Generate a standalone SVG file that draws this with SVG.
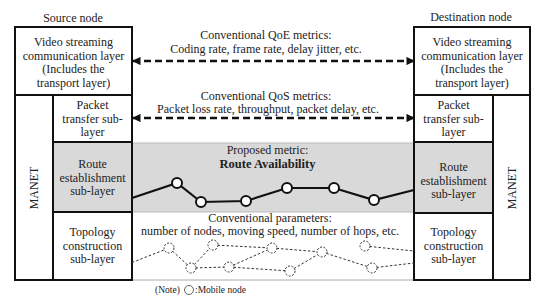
<svg xmlns="http://www.w3.org/2000/svg" width="550" height="305" viewBox="0 0 550 305">
<defs>
<style>
text{font-family:"Liberation Serif","DejaVu Serif",serif;font-size:12px;fill:#222;text-anchor:middle}
.box{fill:#fff;stroke:#111;stroke-width:2}
.gbox{fill:#d9d9d9;stroke:#111;stroke-width:2}
.arrow{stroke:#111;stroke-width:2.6;stroke-dasharray:7 4;fill:none}
.route{stroke:#111;stroke-width:2.2;fill:none}
.rnode{fill:#fff;stroke:#111;stroke-width:2}
.topo{stroke:#333;stroke-width:1;stroke-dasharray:2.5 2;fill:none}
.tnode{fill:#fff;stroke:#333;stroke-width:1;stroke-dasharray:2 1.5}
.bold{font-weight:bold;font-size:12.5px}
.small{font-size:9.5px}
</style>
<marker id="ah" viewBox="0 0 10 10" refX="9" refY="5" markerWidth="3.4" markerHeight="3.2" orient="auto-start-reverse" markerUnits="strokeWidth">
<path d="M0,0 L10,5 L0,10 z" fill="#111"/>
</marker>
</defs>
<rect width="550" height="305" fill="#fff"/>

<!-- middle band -->
<g id="middle-band">
<rect x="132" y="143" width="282" height="69" fill="#d9d9d9" stroke="#bbb" stroke-width="1"/>
<line x1="132" y1="280" x2="414" y2="280" stroke="#aaa" stroke-width="1"/>
</g>

<!-- Source node -->
<g id="source-node">
<text x="73" y="22">Source node</text>
<g id="src-video">
<rect class="box" x="15" y="27" width="117" height="68"/>
<text x="73.5" y="46">Video streaming</text>
<text x="73.5" y="59.5">communication layer</text>
<text x="73.5" y="73">(Includes the</text>
<text x="73.5" y="86.5">transport layer)</text>
</g>
<g id="src-manet">
<rect class="box" x="15" y="95" width="117" height="185"/>
<text transform="translate(37.5,188) rotate(-90)">MANET</text>
</g>
<g id="src-packet">
<rect class="box" x="53" y="95" width="79" height="47"/>
<text x="92.5" y="109">Packet</text>
<text x="92.5" y="122.5">transfer sub-</text>
<text x="92.5" y="136">layer</text>
</g>
<g id="src-route">
<rect class="gbox" x="53" y="142" width="79" height="70"/>
<text x="92.5" y="168">Route</text>
<text x="92.5" y="181.5">establishment</text>
<text x="92.5" y="195">sub-layer</text>
</g>
<g id="src-topology">
<rect class="box" x="53" y="212" width="79" height="68"/>
<text x="92.5" y="236">Topology</text>
<text x="92.5" y="249.5">construction</text>
<text x="92.5" y="263">sub-layer</text>
</g>
</g>

<!-- Destination node -->
<g id="destination-node">
<text x="471" y="21">Destination node</text>
<g id="dst-video">
<rect class="box" x="414" y="27" width="116" height="68"/>
<text x="472" y="46">Video streaming</text>
<text x="472" y="59.5">communication layer</text>
<text x="472" y="73">(Includes the</text>
<text x="472" y="86.5">transport layer)</text>
</g>
<g id="dst-manet">
<rect class="box" x="414" y="95" width="116" height="185"/>
<text transform="translate(516,188) rotate(-90)">MANET</text>
</g>
<g id="dst-packet">
<rect class="box" x="414" y="95" width="79" height="47"/>
<text x="453.5" y="109">Packet</text>
<text x="453.5" y="122.5">transfer sub-</text>
<text x="453.5" y="136">layer</text>
</g>
<g id="dst-route">
<rect class="gbox" x="414" y="142" width="79" height="71"/>
<text x="453.5" y="171">Route</text>
<text x="453.5" y="184.5">establishment</text>
<text x="453.5" y="198">sub-layer</text>
</g>
<g id="dst-topology">
<rect class="box" x="414" y="213" width="79" height="67"/>
<text x="453.5" y="236">Topology</text>
<text x="453.5" y="249.5">construction</text>
<text x="453.5" y="263">sub-layer</text>
</g>
</g>

<!-- labels -->
<g id="labels">
<text x="266" y="38.5">Conventional QoE metrics:</text>
<text x="266" y="52.5">Coding rate, frame rate, delay jitter, etc.</text>
<text x="266" y="99.5">Conventional QoS metrics:</text>
<text x="268" y="113">Packet loss rate, throughput, packet delay, etc.</text>
<text x="267.5" y="154">Proposed metric:</text>
<text class="bold" x="267.5" y="168">Route Availability</text>
<text x="270" y="221.5">Conventional parameters:</text>
<text x="270" y="235">number of nodes, moving speed, number of hops, etc.</text>
</g>

<!-- connectors -->
<g id="connectors">
<line class="arrow" x1="133" y1="61" x2="414" y2="61" marker-start="url(#ah)" marker-end="url(#ah)"/>
<line class="arrow" x1="133" y1="118" x2="414" y2="118" marker-start="url(#ah)" marker-end="url(#ah)"/>
<polyline class="route" points="132,198 177,183 201,202 246,201 287,188 334,188 374,200 414,190"/>
<g class="topo">
<line x1="132" y1="262.5" x2="169" y2="248"/>
<line x1="169" y1="248" x2="191" y2="268"/>
<line x1="191" y1="268" x2="213" y2="245"/>
<line x1="191" y1="268" x2="229" y2="267"/>
<line x1="213" y1="245" x2="272" y2="248"/>
<line x1="229" y1="267" x2="272" y2="248"/>
<line x1="229" y1="267" x2="290" y2="271"/>
<line x1="272" y1="248" x2="322" y2="252"/>
<line x1="290" y1="271" x2="322" y2="252"/>
<line x1="322" y1="252" x2="372" y2="268"/>
<line x1="365" y1="246" x2="414" y2="251"/>
<line x1="372" y1="268" x2="414" y2="263"/>
</g>
</g>

<!-- mobile nodes -->
<g id="route-nodes">
<circle class="rnode" cx="177" cy="183" r="5"/>
<circle class="rnode" cx="201" cy="202" r="5"/>
<circle class="rnode" cx="246" cy="201" r="5"/>
<circle class="rnode" cx="287" cy="188" r="5"/>
<circle class="rnode" cx="334" cy="188" r="5"/>
<circle class="rnode" cx="374" cy="200" r="5"/>
</g>
<g id="topology-nodes">
<circle class="tnode" cx="169" cy="248" r="5"/>
<circle class="tnode" cx="191" cy="268" r="5"/>
<circle class="tnode" cx="213" cy="245" r="5"/>
<circle class="tnode" cx="229" cy="267" r="5"/>
<circle class="tnode" cx="272" cy="248" r="5"/>
<circle class="tnode" cx="290" cy="271" r="5"/>
<circle class="tnode" cx="322" cy="252" r="5"/>
<circle class="tnode" cx="365" cy="246" r="5"/>
<circle class="tnode" cx="372" cy="268" r="5"/>
</g>

<!-- note -->
<g id="note">
<text class="small" x="167.5" y="293">(Note)</text>
<circle cx="189" cy="290" r="4.5" fill="#fff" stroke="#555" stroke-width="0.9"/>
<text class="small" x="195" y="293" style="text-anchor:start">:Mobile node</text>
</g>
</svg>
